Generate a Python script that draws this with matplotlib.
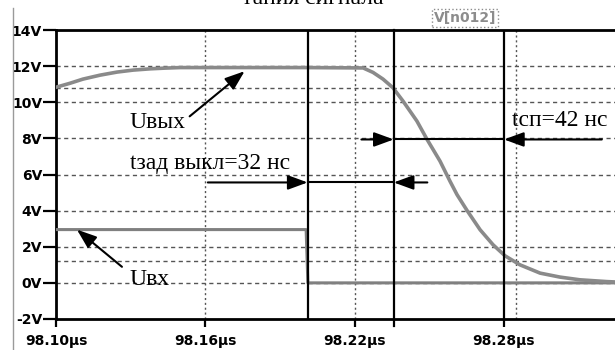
import matplotlib.pyplot as plt
from matplotlib.lines import Line2D

# Выходное напряжение (В) по времени (мкс)
t_out = [98.100, 98.1056, 98.1108, 98.1177, 98.1245, 98.131, 98.1378,
         98.1438, 98.1498, 98.170, 98.200, 98.2234, 98.2274, 98.2314,
         98.2354, 98.2394, 98.2450, 98.2491, 98.2543, 98.2583, 98.2611,
         98.2651, 98.2704, 98.2756, 98.2804, 98.2864, 98.2945, 98.3025,
         98.3105, 98.3214, 98.3246]
u_out = [10.83, 11.05, 11.28, 11.5, 11.67, 11.78, 11.85,
         11.89, 11.92, 11.92, 11.92, 11.9, 11.65, 11.28,
         10.8, 10.07, 8.96, 7.94, 6.74, 5.63, 4.89,
         4.02, 2.94, 2.11, 1.5, 1.0, 0.54, 0.32,
         0.17, 0.07, 0.05]

# Входное напряжение
t_in = [98.100, 98.2005, 98.2012, 98.3246]
u_in = [2.95, 2.95, 0.0, 0.0]

y_ticks = [-2, 0, 2, 4, 6, 8, 10, 12, 14]
y_labels = ["-2V", "0V", "2V", "4V", "6V", "8V", "10V", "12V", "14V"]
x_ticks = [98.10, 98.16, 98.22, 98.28]
x_labels = ["98.10µs", "98.16µs", "98.22µs", "98.28µs"]

# курсоры: переключение входа, 90% и 10% выхода
cursors = [98.2011, 98.2357, 98.280]
levels_10_90 = [10.8, 1.2]


def main() -> None:
    fig = plt.figure(figsize=(6.15, 3.5), dpi=100)
    ax = fig.add_axes([56 / 615, 31 / 350, 1 - 56 / 615, 289 / 350])

    serif = "Liberation Serif"
    grid_kw = dict(color="#555555", lw=1.0)

    ax.set_xlim(98.10, 98.3246)
    ax.set_ylim(-2, 14)

    # сетка
    for y in [0, 2, 4, 6, 8, 10, 12] + levels_10_90:
        ax.axhline(y, ls=(0, (3, 2.5)), zorder=1, **grid_kw)
    for x in [98.16, 98.22, 98.285]:
        ax.axvline(x, ls=(0, (1.5, 2)), zorder=1, **grid_kw)

    # сигналы
    ax.plot(t_in, u_in, color="#808080", lw=2.2, zorder=3)
    ax.plot(t_out, u_out, color="#8a8a8a", lw=2.6, zorder=3,
            solid_joinstyle="round")

    # курсоры
    for i, x in enumerate(cursors):
        ax.axvline(x, color="black", lw=1.6, zorder=4,
                   ymin=-0.025 if i == 1 else 0, clip_on=(i != 1))

    ax.set_yticks(y_ticks)
    ax.set_yticklabels(y_labels)
    ax.set_xticks(x_ticks)
    ax.set_xticklabels(x_labels)
    ax.tick_params(axis="y", direction="out", length=9.5, width=1.6, pad=0.5,
                   labelsize=10)
    ax.tick_params(axis="x", direction="out", length=6, width=1.6, pad=5,
                   labelsize=10)
    for lab in ax.get_xticklabels() + ax.get_yticklabels():
        lab.set_fontweight("bold")

    for side in ["left", "top", "bottom"]:
        ax.spines[side].set_linewidth(2.0)
    ax.spines["right"].set_visible(False)

    arrow = dict(arrowstyle="-|>,head_length=0.6,head_width=0.22",
                 color="black", lw=1.5, mutation_scale=20,
                 shrinkA=0, shrinkB=0)

    # U вых
    ax.text(98.1297, 8.6, "Uвых", family=serif, fontsize=17, va="baseline",
            zorder=6)
    ax.annotate("", xy=(98.1758, 11.72), xytext=(98.1537, 9.22),
                arrowprops=arrow, zorder=6)

    # U вх
    ax.text(98.1297, -0.11, "Uвх", family=serif, fontsize=17, va="baseline",
            zorder=6)
    ax.annotate("", xy=(98.1084, 2.95), xytext=(98.1265, 0.89),
                arrowprops=arrow, zorder=6)

    # задержка выключения
    ax.text(98.1297, 6.28, "tзад выкл=32 нс", family=serif, fontsize=17,
            va="baseline", zorder=6)
    ax.annotate("", xy=(cursors[0], 5.56), xytext=(98.161, 5.56),
                arrowprops=arrow, zorder=6)
    ax.plot([cursors[0], cursors[1]], [5.56, 5.56], color="black", lw=1.5,
            zorder=5)
    ax.annotate("", xy=(cursors[1], 5.56), xytext=(98.2492, 5.56),
                arrowprops=arrow, zorder=6)

    # время спада
    ax.text(98.2833, 8.67, "tсп=42 нс", family=serif, fontsize=17,
            va="baseline", zorder=6)
    ax.annotate("", xy=(cursors[1], 7.94), xytext=(98.2227, 7.94),
                arrowprops=arrow, zorder=6)
    ax.plot([cursors[1], cursors[2]], [7.94, 7.94], color="black", lw=1.5,
            zorder=5)
    ax.annotate("", xy=(cursors[2], 7.94), xytext=(98.3193, 7.94),
                arrowprops=arrow, zorder=6)

    # подпись сверху (в оригинале обрезана) и метка трассы
    fig.text(313 / 615, 1 - 4 / 350, "тания сигнала", family=serif,
             fontsize=17, ha="center", va="baseline")
    fig.text(465 / 615, 1 - 18 / 350, "V[n012]", color="#8c8c8c",
             fontsize=10, fontweight="bold", ha="center", va="center",
             bbox=dict(boxstyle="square,pad=0.15", fc="none", ec="#8c8c8c",
                       ls=":", lw=1.0))

    # рамка окна слева
    fig.add_artist(Line2D([13 / 615, 13 / 615], [0, 1 - 8 / 350],
                          color="#9a9a9a", lw=1.0))

    fig.savefig("out.png", dpi=100)
    plt.close(fig)


if __name__ == "__main__":
    main()
